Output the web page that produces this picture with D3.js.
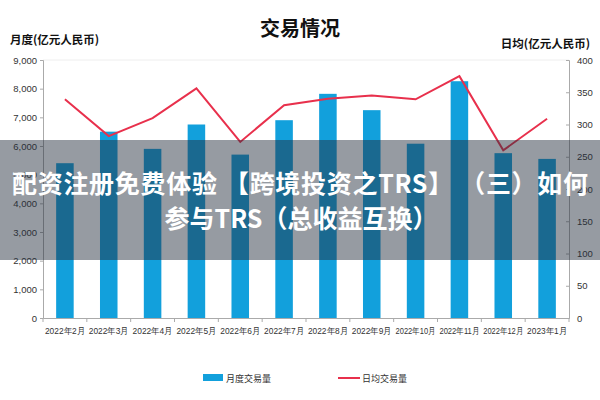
<!DOCTYPE html>
<html>
<head>
<meta charset="utf-8">
<title>交易情况</title>
<script src="https://d3js.org/d3.v7.min.js"></script>
<style>
  body { margin: 0; background: #fff; }
  svg { display: block; font-family: "Noto Sans CJK SC", "Noto Sans", sans-serif; }
</style>
</head>
<body>
<div id="chart"></div>
<script>
// data
var months = ["2022年2月", "2022年3月", "2022年4月", "2022年5月", "2022年6月", "2022年7月",
              "2022年8月", "2022年9月", "2022年10月", "2022年11月", "2022年12月", "2023年1月"];
var monthly = [5400, 6500, 5900, 6750, 5700, 6900, 7820, 7250, 6080, 8260, 5750, 5550];
var daily = [339, 282, 310, 356, 273, 330, 340, 345, 339, 375, 260, 309];
var leftTicks = [0, 1000, 2000, 3000, 4000, 5000, 6000, 7000, 8000, 9000];
var rightTicks = [0, 50, 100, 150, 200, 250, 300, 350, 400];

var width = 600, height = 400;
var margin = {top: 60, right: 31, bottom: 82, left: 43};

var svg = d3.select("#chart").append("svg")
  .attr("width", width).attr("height", height);

var x = d3.scaleBand().domain(months)
  .range([margin.left, width - margin.right]).paddingInner(0.6).paddingOuter(0.3);
var yL = d3.scaleLinear().domain([0, 9000]).range([height - margin.bottom, margin.top]);
var yR = d3.scaleLinear().domain([0, 400]).range([height - margin.bottom, margin.top]);

// top gridline
svg.append("line")
  .attr("x1", margin.left).attr("x2", width - margin.right)
  .attr("y1", yL(9000)).attr("y2", yL(9000))
  .attr("stroke", "#eee");

// bars
svg.selectAll("rect.bar").data(monthly).enter().append("rect")
  .attr("class", "bar")
  .attr("x", function(d, i) { return x(months[i]); })
  .attr("width", x.bandwidth())
  .attr("y", function(d) { return yL(d); })
  .attr("height", function(d) { return yL(0) - yL(d); })
  .attr("fill", "#12a0dc");

// line
var line = d3.line()
  .x(function(d, i) { return x(months[i]) + x.bandwidth() / 2; })
  .y(function(d) { return yR(d); });
svg.append("path").datum(daily)
  .attr("d", line)
  .attr("fill", "none")
  .attr("stroke", "#e8304c")
  .attr("stroke-width", 2);

// axes
var gL = svg.append("g").attr("transform", "translate(" + margin.left + ",0)")
  .call(d3.axisLeft(yL).tickValues(leftTicks).tickSize(3).tickFormat(d3.format(",")));
var gR = svg.append("g").attr("transform", "translate(" + (width - margin.right) + ",0)")
  .call(d3.axisRight(yR).tickValues(rightTicks).tickSize(-3).tickPadding(8));
var gX = svg.append("g").attr("transform", "translate(0," + yL(0) + ")")
  .call(d3.axisBottom(x).tickSize(0).tickPadding(10));

[gL, gR, gX].forEach(function(g) {
  g.select(".domain").attr("stroke", "#aaa");
  g.selectAll(".tick line").attr("stroke", "#aaa");
  g.selectAll("text").attr("fill", "#333").style("font-size", "9.5px");
});
gX.selectAll("text").style("font-size", "9px").attr("textLength", 40).attr("lengthAdjust", "spacingAndGlyphs");

// x tick marks between categories
var step = x.step();
svg.selectAll("line.xt").data(d3.range(months.length + 1)).enter().append("line")
  .attr("class", "xt")
  .attr("x1", function(i) { return margin.left + i * step; })
  .attr("x2", function(i) { return margin.left + i * step; })
  .attr("y1", yL(0)).attr("y2", yL(0) + 4)
  .attr("stroke", "#aaa");

// titles
svg.append("text").attr("x", 300).attr("y", 36).attr("text-anchor", "middle")
  .style("font-size", "20px").style("font-weight", "bold").attr("fill", "#111").text("交易情况");
svg.append("text").attr("x", 10).attr("y", 44)
  .style("font-size", "11.5px").style("font-weight", "bold").attr("fill", "#111").text("月度(亿元人民币)");
svg.append("text").attr("x", 590).attr("y", 48).attr("text-anchor", "end")
  .style("font-size", "11.5px").style("font-weight", "bold").attr("fill", "#111").text("日均(亿元人民币)");

// legend
var lg = svg.append("g").attr("transform", "translate(0,378)");
lg.append("rect").attr("x", 203).attr("y", -4).attr("width", 20).attr("height", 7).attr("fill", "#12a0dc");
lg.append("text").attr("x", 226).attr("y", 3.5).style("font-size", "9px").attr("fill", "#333").text("月度交易量");
lg.append("line").attr("x1", 338).attr("x2", 360).attr("y1", 0).attr("y2", 0)
  .attr("stroke", "#e8304c").attr("stroke-width", 2);
lg.append("text").attr("x", 362).attr("y", 3.5).style("font-size", "9px").attr("fill", "#333").text("日均交易量");

// overlay band with headline
svg.append("rect").attr("x", 0).attr("y", 140).attr("width", width).attr("height", 120)
  .attr("fill", "rgb(35,45,60)").attr("fill-opacity", 0.48);
svg.append("text").attr("x", 12).attr("y", 193)
  .style("font-size", "25px").style("font-weight", "bold").attr("fill", "#fff")
  .attr("textLength", 576).attr("lengthAdjust", "spacing")
  .text("配资注册免费体验 【跨境投资之TRS】 （三）如何");
svg.append("text").attr("x", 301).attr("y", 228).attr("text-anchor", "middle")
  .style("font-size", "25px").style("font-weight", "bold").attr("fill", "#fff")
  .text("参与TRS（总收益互换）");
</script>
</body>
</html>
